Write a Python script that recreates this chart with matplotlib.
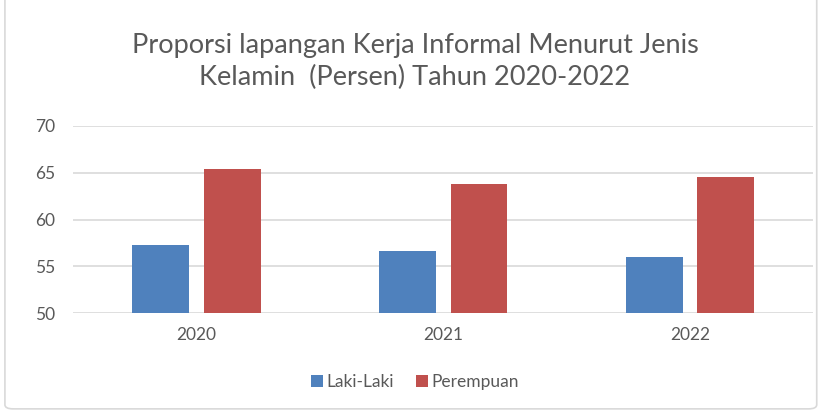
import matplotlib.pyplot as plt
import numpy as np
from matplotlib.patches import FancyBboxPatch

plt.rcParams['font.family'] = ['Lato', 'DejaVu Sans']

years = ["2020", "2021", "2022"]
laki = [57.3, 56.6, 56.0]
perempuan = [65.4, 63.8, 64.5]

blue = "#4f81bd"
red = "#c0504d"

fig = plt.figure(figsize=(8.2, 4.13), dpi=100)
ax = fig.add_axes([0.089, 0.242, 0.903, 0.453])

x = np.arange(len(years))
w = 0.23
ax.bar(x - 0.145, laki, w, color=blue, label="Laki-Laki", zorder=3)
ax.bar(x + 0.145, perempuan, w, color=red, label="Perempuan", zorder=3)

ax.set_ylim(50, 70)
ax.set_xlim(-0.5, 2.5)
ax.set_yticks([50, 55, 60, 65, 70])
ax.set_xticks(x)
ax.set_xticklabels(years)
ax.grid(axis="y", color="#d9d9d9", linewidth=1.2, zorder=0)
for s in ax.spines.values():
    s.set_visible(False)
ax.tick_params(length=0, colors="#595959", labelsize=12.5)
ax.tick_params(axis="y", pad=27)
ax.tick_params(axis="x", pad=10)
for lbl in ax.get_yticklabels():
    lbl.set_horizontalalignment("left")

fig.text(0.506, 0.851, "Proporsi lapangan Kerja Informal Menurut Jenis\nKelamin  (Persen) Tahun 2020-2022",
         ha="center", va="center", fontsize=19.5, color="#595959", linespacing=1.38)

fig.legend(loc="center", bbox_to_anchor=(0.506, 0.075), ncol=2, frameon=False,
           fontsize=12.5, labelcolor="#595959", handlelength=0.7, handleheight=0.7,
           handletextpad=0.2, columnspacing=1.3)

border = FancyBboxPatch((0.006, 0.01), 0.99, 1.1, transform=fig.transFigure,
                        boxstyle="round,pad=0,rounding_size=0.01",
                        facecolor="none", edgecolor="#d9d9d9", linewidth=1.2)
fig.patches.append(border)

fig.savefig("out.png", dpi=100)
